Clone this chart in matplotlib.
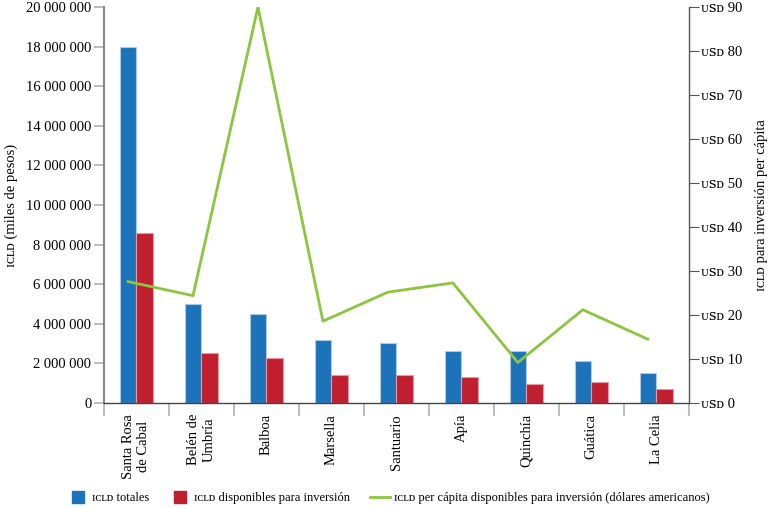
import matplotlib
matplotlib.use("Agg")
import matplotlib.pyplot as plt
from matplotlib.ticker import FuncFormatter
from matplotlib.lines import Line2D
import numpy as np

plt.rcParams['font.family'] = ['Liberation Serif', 'DejaVu Serif']

municipios = ["Santa Rosa\nde Cabal", "Belén de\nUmbría", "Balboa", "Marsella",
              "Santuario", "Apía", "Quinchía", "Guática", "La Celia"]
icld_totales = [18000000, 4980000, 4490000, 3200000, 3040000, 2650000, 2650000, 2120000, 1530000]
icld_inversion = [8570000, 2520000, 2260000, 1400000, 1390000, 1330000, 980000, 1080000, 690000]
per_capita_usd = [27.6, 24.4, 90.0, 18.6, 25.2, 27.3, 9.2, 21.2, 14.5]

SC_ICLD = "\u026a\u1d04\u029f\u1d05"   # small caps ICLD
SC_USD = "\u1d1c\ua731\u1d05"           # small caps USD

blue = "#1c73b9"
red = "#c01f30"
green = "#8cc63e"
grey = "#555555"
light = "#b0b0b0"


def main():
    fig = plt.figure(figsize=(7.73, 5.08), dpi=100)
    ax = fig.add_axes([0.1345, 0.2067, 0.7565, 0.7793])
    ax2 = ax.twinx()

    x = np.arange(len(municipios))
    w = 0.257
    ax.bar(x - w / 2, icld_totales, w, color=blue, edgecolor="#a9cbe8", linewidth=0.8, zorder=2)
    ax.bar(x + w / 2, icld_inversion, w, color=red, edgecolor="#e59aa3", linewidth=0.8, zorder=2)
    ax2.plot(x - 0.13, per_capita_usd, color=green, linewidth=2, zorder=3)

    ax.set_xlim(-0.5, len(municipios) - 0.5)
    ax.set_ylim(0, 20000000)
    ax2.set_ylim(0, 90)
    ax.set_yticks(np.arange(0, 20000001, 2000000))
    ax2.set_yticks(np.arange(0, 91, 10))
    ax.yaxis.set_major_formatter(FuncFormatter(lambda v, p: f"{int(v):,}".replace(",", " ")))
    ax2.yaxis.set_major_formatter(FuncFormatter(lambda v, p: f"{SC_USD} {int(v)}"))

    # category labels between boundary ticks
    ax.set_xticks(np.arange(-0.5, len(municipios), 1))
    ax.set_xticklabels([])
    ax.set_xticks(x, minor=True)
    ax.set_xticklabels(municipios, minor=True, rotation=90, fontsize=10.5,
                       va="top", ha="center", multialignment="center")
    ax.tick_params(axis="x", which="major", length=9, color=light, width=1.2)
    ax.tick_params(axis="x", which="minor", length=0, pad=8)

    ax.tick_params(axis="y", length=7, color=light, width=1.2, labelsize=10.5, pad=2)
    ax2.tick_params(axis="y", length=7, color=grey, width=0.8, labelsize=10.5, pad=2)

    for a in (ax, ax2):
        a.spines["top"].set_visible(False)
    ax.spines["right"].set_visible(False)
    ax2.spines["left"].set_visible(False)
    ax2.spines["bottom"].set_visible(False)
    ax.spines["left"].set_color("#777777")
    ax.spines["left"].set_linewidth(1.3)
    ax.spines["bottom"].set_color("#444444")
    ax.spines["bottom"].set_linewidth(1.0)
    ax2.spines["right"].set_color(grey)
    ax2.spines["right"].set_linewidth(1.0)

    ax.set_ylabel(f"{SC_ICLD} (miles de pesos)", fontsize=10.5, labelpad=6)
    ax2.set_ylabel(f"{SC_ICLD} para inversión per cápita", fontsize=10.5, labelpad=9)

    handles = [Line2D([0], [0], marker="s", linestyle="none", markersize=8.5,
                      markerfacecolor=blue, markeredgecolor=blue),
               Line2D([0], [0], marker="s", linestyle="none", markersize=8.5,
                      markerfacecolor=red, markeredgecolor=red),
               Line2D([0], [0], color=green, linewidth=2)]
    labels = [f"{SC_ICLD} totales", f"{SC_ICLD} disponibles para inversión",
              f"{SC_ICLD} per cápita disponibles para inversión (dólares americanos)"]
    fig.legend(handles, labels, loc="lower left", bbox_to_anchor=(0.083, 0.0), ncol=3,
               frameon=False, fontsize=9, handlelength=1.6, borderpad=0.3,
               columnspacing=1.6, handletextpad=0.35, borderaxespad=0)

    fig.savefig("out.png", dpi=100)


if __name__ == "__main__":
    main()
